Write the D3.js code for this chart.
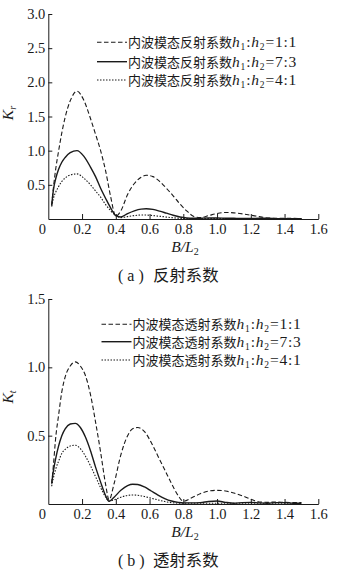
<!DOCTYPE html>
<html lang="zh">
<head>
<meta charset="UTF-8">
<script src="https://cdn.jsdelivr.net/npm/d3@7/dist/d3.min.js"></script>
<style>
    body{margin:0;background:#fff;}
    svg{display:block;}
</style>
<title>Kr Kt</title>
</head>
<body>
<svg id="chart"></svg>
<script>
// B/L2 sampling points and coefficient values
var xRefl = [0.02,0.03,0.045,0.06,0.08,0.1,0.13,0.17,0.21,0.25,0.28,0.31,0.34,0.37,0.4,0.43,0.47,0.51,0.55,0.58,0.62,0.66,0.7,0.74,0.78,0.82,0.86,0.9,0.95,1.0,1.05,1.1,1.15,1.2,1.25,1.3,1.35,1.4,1.45,1.5];
var refl11 = [0.2,0.45,0.75,0.98,1.26,1.49,1.73,1.87,1.74,1.47,1.24,1.0,0.7,0.32,0.04,0.12,0.36,0.52,0.61,0.64,0.62,0.55,0.45,0.34,0.22,0.12,0.04,0.02,0.05,0.08,0.095,0.09,0.075,0.055,0.035,0.015,0.01,0.012,0.01,0.005];
var refl73 = [0.2,0.42,0.6,0.72,0.83,0.9,0.97,1.0,0.92,0.76,0.62,0.45,0.3,0.16,0.05,0.03,0.08,0.12,0.145,0.15,0.14,0.115,0.085,0.055,0.03,0.015,0.01,0.012,0.015,0.015,0.012,0.01,0.008,0.008,0.01,0.01,0.006,0.005,0.005,0.005];
var refl41 = [0.18,0.3,0.4,0.47,0.55,0.6,0.645,0.66,0.6,0.5,0.41,0.32,0.21,0.12,0.05,0.02,0.035,0.05,0.058,0.058,0.05,0.04,0.028,0.018,0.01,0.006,0.005,0.005,0.005,0.005,0.005,0.005,0.005,0.005,0.005,0.005,0.005,0.005,0.005,0.005];

var xTrans = [0.02,0.03,0.045,0.06,0.08,0.1,0.13,0.16,0.19,0.22,0.25,0.28,0.31,0.34,0.36,0.39,0.43,0.47,0.5,0.53,0.57,0.61,0.65,0.69,0.73,0.77,0.8,0.85,0.9,0.95,1.0,1.05,1.1,1.15,1.2,1.25,1.3,1.35,1.4,1.45,1.5];
var trans11 = [0.15,0.28,0.5,0.64,0.82,0.93,1.01,1.04,1.01,0.94,0.8,0.6,0.38,0.14,0.03,0.15,0.36,0.5,0.55,0.56,0.53,0.45,0.35,0.25,0.15,0.06,0.02,0.045,0.075,0.095,0.1,0.095,0.08,0.06,0.035,0.015,0.012,0.015,0.012,0.01,0.01];
var trans73 = [0.15,0.24,0.34,0.42,0.5,0.55,0.585,0.59,0.56,0.49,0.39,0.27,0.16,0.06,0.02,0.05,0.1,0.135,0.145,0.143,0.125,0.095,0.065,0.04,0.022,0.012,0.008,0.008,0.01,0.018,0.022,0.012,0.006,0.01,0.012,0.008,0.006,0.01,0.01,0.006,0.005];
var trans41 = [0.13,0.19,0.26,0.31,0.37,0.4,0.425,0.43,0.405,0.35,0.28,0.2,0.12,0.05,0.02,0.03,0.05,0.063,0.066,0.064,0.055,0.042,0.03,0.018,0.01,0.006,0.005,0.005,0.005,0.005,0.005,0.005,0.005,0.005,0.005,0.005,0.005,0.005,0.005,0.005,0.005];

var ratios = ["1:1","7:3","4:1"];
var xTicks = [0,0.2,0.4,0.6,0.8,1.0,1.2,1.4,1.6];
var yTicksRefl = [0.5,1.0,1.5,2.0,2.5,3.0];
var yTicksTrans = [0.5,1.0,1.5];

var SERIF = "'Liberation Serif', 'Times New Roman', serif";
var CJK = "'Noto Sans CJK SC', sans-serif";
var ink = "#1a1a1a";

var width = 358, height = 571;
var svg = d3.select("#chart").attr("width", width).attr("height", height);
svg.append("rect").attr("width", width).attr("height", height).attr("fill", "#fff");

var dashes = ["4.5,2.5", null, "1.5,1.5"];
var widths = [1.1, 1.4, 1.1];

function drawPanel(p) {
    var x = d3.scaleLinear().domain([0, 1.6]).range([48.3, 318.3]);
    var y = d3.scaleLinear().domain([0, p.yMax]).range([p.y0, p.y1]);
    var g = svg.append("g");

    // axes
    var ax = g.append("g").attr("transform", "translate(0," + p.y0 + ")")
        .call(d3.axisBottom(x).tickValues(xTicks).tickSize(-5).tickSizeOuter(0).tickPadding(5)
            .tickFormat(function(d){ return d === 0 ? "0" : d3.format(".1f")(d); }));
    var ay = g.append("g").attr("transform", "translate(48.3,0)")
        .call(d3.axisLeft(y).tickValues(p.yTicks).tickSize(-4).tickSizeOuter(0).tickPadding(3)
            .tickFormat(d3.format(".1f")));
    [ax, ay].forEach(function(a){
        a.attr("font-family", SERIF).attr("font-size", 14.5);
        a.selectAll("path,line").attr("stroke", ink).attr("stroke-width", 1);
        a.selectAll("text").attr("fill", ink);
    });
    ax.selectAll(".tick").filter(function(d){ return d === 0; }).select("line").remove();
    ax.selectAll(".tick").filter(function(d){ return d === 0; }).select("text").attr("dx", -6.5);

    // curves
    var line = d3.line().x(function(d){ return x(d[0]); }).y(function(d){ return y(d[1]); })
        .curve(d3.curveMonotoneX);
    p.series.forEach(function(s, i){
        g.append("path")
            .datum(p.xs.map(function(v, j){ return [v, s[j]]; }))
            .attr("d", line)
            .attr("fill", "none")
            .attr("stroke", ink)
            .attr("stroke-width", widths[i])
            .attr("stroke-dasharray", dashes[i]);
    });

    // legend
    ratios.forEach(function(r, i){
        var ly = p.legY[i];
        g.append("line").attr("x1", p.legX).attr("x2", p.legX + 30).attr("y1", ly).attr("y2", ly)
            .attr("stroke", ink).attr("stroke-width", widths[i]).attr("stroke-dasharray", dashes[i]);
        var t = g.append("text").attr("x", p.legX + 31).attr("y", ly + 5).attr("fill", ink);
        t.append("tspan").attr("font-family", CJK).attr("font-size", 13).text(p.legName);
        var parts = [["h", 0, 15.5, "italic"], ["1", 3, 9.5, null], [":", -3, 15.5, null], ["h", 0, 15.5, "italic"],
                     ["2", 3, 9.5, null], ["=" + r, -3, 15.5, null]];
        parts.forEach(function(q){
            t.append("tspan").attr("font-family", SERIF).attr("font-size", q[2]).attr("dy", q[1])
                .attr("font-style", q[3]).attr("letter-spacing", 0.8).text(q[0]);
        });
    });

    // y label
    var ky = g.append("text").attr("font-family", SERIF).attr("font-size", 15.5).attr("fill", ink)
        .attr("transform", "translate(13," + p.kY + ") rotate(-90)").attr("text-anchor", "middle");
    ky.append("tspan").attr("font-style", "italic").text("K");
    ky.append("tspan").attr("font-style", "italic").attr("font-size", 10).attr("dy", 3).text(p.kSub);

    // x label
    var bl = g.append("text").attr("font-family", SERIF).attr("font-size", 15.5).attr("fill", ink)
        .attr("x", 185).attr("y", p.y0 + 33).attr("text-anchor", "middle");
    bl.append("tspan").attr("font-style", "italic").text("B/L");
    bl.append("tspan").attr("font-size", 10).attr("dy", 3).text("2");

    // caption
    var cap = g.append("text").attr("y", p.capY).attr("x", 118).attr("fill", ink);
    cap.append("tspan").attr("font-family", SERIF).attr("font-size", 16).text("( " + p.capTag + " )");
    cap.append("tspan").attr("font-family", CJK).attr("font-size", 16.4).attr("x", 153).text(p.capName);
}

drawPanel({
    yMax: 3, y0: 219, y1: 14, yTicks: yTicksRefl,
    xs: xRefl, series: [refl11, refl73, refl41],
    legX: 97, legY: [42.3, 61.7, 80], legName: "内波模态反射系数",
    kY: 113, kSub: "r", capY: 281, capTag: "a", capName: "反射系数"
});
drawPanel({
    yMax: 1.5, y0: 504, y1: 299, yTicks: yTicksTrans,
    xs: xTrans, series: [trans11, trans73, trans41],
    legX: 101.5, legY: [324.3, 341.7, 360], legName: "内波模态透射系数",
    kY: 397, kSub: "t", capY: 566, capTag: "b", capName: "透射系数"
});
</script>
</body>
</html>
